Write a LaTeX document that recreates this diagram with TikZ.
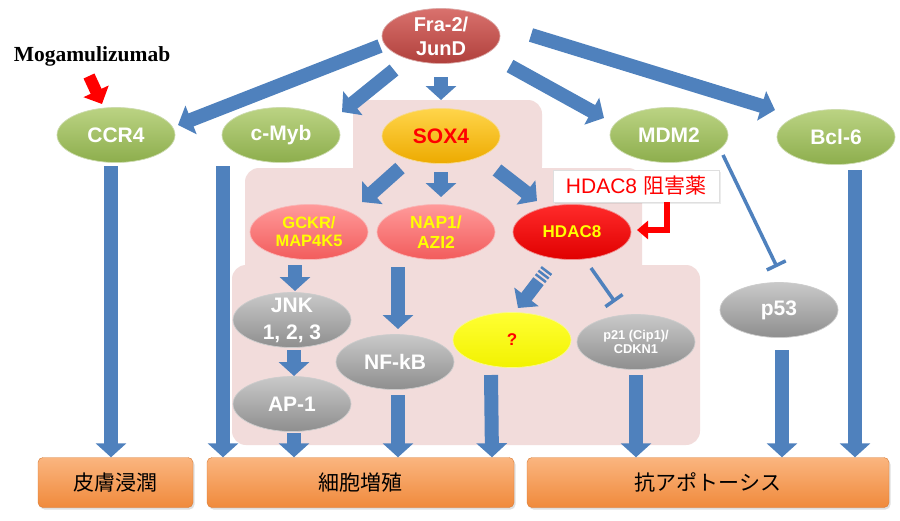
\documentclass[tikz,border=0pt]{standalone}
\usepackage{fontspec}
\setmainfont{Liberation Sans}
\newfontfamily\jpfont{Noto Sans CJK JP}
\newfontfamily\serifb{Liberation Serif}
\usetikzlibrary{shapes.geometric,arrows.meta,shadows,calc}
\newcommand{\myfs}[2]{\fontsize{#1}{#2}\selectfont}
\definecolor{ablue}{HTML}{4F81BD}
\definecolor{pinkbg}{HTML}{F2DCDB}
\definecolor{grT}{HTML}{BBD383}\definecolor{grB}{HTML}{8DAE4C}
\definecolor{frT}{HTML}{D9716D}\definecolor{frB}{HTML}{B0403C}
\definecolor{sxT}{HTML}{FFD54A}\definecolor{sxB}{HTML}{EDAA00}
\definecolor{slT}{HTML}{FF9A9A}\definecolor{slB}{HTML}{F25C5C}
\definecolor{hdT}{HTML}{FF2A2A}\definecolor{hdB}{HTML}{E00000}
\definecolor{gyT}{HTML}{C9C9C9}\definecolor{gyB}{HTML}{8E8E8E}
\definecolor{ylT}{HTML}{FFFF33}\definecolor{ylB}{HTML}{F2F200}
\definecolor{orT}{HTML}{FAB57F}\definecolor{orB}{HTML}{F08A3C}
\definecolor{ayellow}{HTML}{FFFF00}
\tikzset{
  bub/.style n args={2}{ellipse, minimum width=118pt, minimum height=55pt,
    inner xsep=0pt, inner ysep=-6pt, align=center, top color=#1, bottom color=#2,
    draw=white!55!#2, line width=0.7pt},
  obox/.style={rectangle, rounded corners=5pt, minimum height=50pt,
    top color=orT, bottom color=orB, draw=orB!90!black, line width=0.4pt,
    font=\jpfont\myfs{21}{24}, text=black,
    drop shadow={opacity=0.25, shadow xshift=1.5pt, shadow yshift=-2pt}},
  blk/.style={draw=ablue, line width=14pt, -{Triangle[length=14pt,width=30pt]}},
  stripe/.style={draw=ablue, line width=13pt,
    dash pattern=on 2.5pt off 2pt on 2.5pt off 2pt on 2.5pt off 2.5pt on 200pt,
    -{Triangle[length=14pt,width=30pt]}},
  inhib/.style={draw=ablue, line width=3.5pt, -{Bar[width=21pt]}},
  redarr/.style={draw=red, line width=12pt, -{Triangle[length=14pt,width=27pt]}},
  redelbow/.style={draw=red, line width=5.5pt, line join=miter, -{Triangle[length=11pt,width=18pt]}}
}
\begin{document}
\begin{tikzpicture}[x=1pt,y=-1pt]
\useasboundingbox (0,0) rectangle (900,520);
\fill[white] (0,0) rectangle (900,520);
% pink background region
\fill[pinkbg, rounded corners=14pt] (353,100) rectangle (542,180);
\fill[pinkbg, rounded corners=14pt] (245,168) rectangle (642,280);
\fill[pinkbg, rounded corners=14pt] (232,265) rectangle (700,445);

% nodes
\node[bub={frT}{frB}, text=white, font=\bfseries\myfs{20}{24}] (fra) at (441,36) {Fra-2/\\JunD};
\node[font=\serifb\bfseries\myfs{21.5}{24}] (mog) at (92,56) {Mogamulizumab};
\node[bub={grT}{grB}, text=white, font=\bfseries\myfs{21}{24}] (ccr4) at (116,135) {CCR4};
\node[bub={grT}{grB}, text=white, font=\bfseries\myfs{21}{24}] (cmyb) at (281,135) {c-Myb};
\node[bub={sxT}{sxB}, text=red, font=\bfseries\myfs{21}{24}] (sox4) at (441,136) {SOX4};
\node[bub={grT}{grB}, text=white, font=\bfseries\myfs{21}{24}] (mdm2) at (669,135) {MDM2};
\node[bub={grT}{grB}, text=white, font=\bfseries\myfs{21}{24}] (bcl6) at (836,137) {Bcl-6};
\node[rectangle, fill=white, draw=gray!25, minimum width=166pt, minimum height=32pt, inner sep=0pt,
  text=red, font=\myfs{21}{24},
  drop shadow={opacity=0.15, shadow xshift=1.5pt, shadow yshift=-1.5pt}] (inh) at (636,186) {HDAC8 {\jpfont 阻害薬}};
\node[bub={slT}{slB}, text=ayellow, font=\bfseries\myfs{16.5}{18}] (gckr) at (309,232) {GCKR/\\MAP4K5};
\node[bub={slT}{slB}, text=ayellow, font=\bfseries\myfs{17.5}{20}] (nap1) at (436,232) {NAP1/\\AZI2};
\node[bub={hdT}{hdB}, text=ayellow, font=\bfseries\myfs{17}{20}] (hdac8) at (572,232) {HDAC8};
\node[bub={gyT}{gyB}, text=white, font=\bfseries\myfs{21}{27}] (jnk) at (292,320) {JNK\\1, 2, 3};
\node[bub={gyT}{gyB}, text=white, font=\bfseries\myfs{21}{24}] (ap1) at (292,404) {AP-1};
\node[bub={gyT}{gyB}, text=white, font=\bfseries\myfs{21}{24}] (nfkb) at (395,362) {NF-kB};
\node[bub={ylT}{ylB}, text=red, font=\bfseries\myfs{17}{20}] (q) at (512,340) {?};
\node[bub={gyT}{gyB}, text=white, font=\bfseries\myfs{12.8}{14.5}] (p21) at (636,342) {p21 (Cip1)/\\CDKN1};
\node[bub={gyT}{gyB}, text=white, font=\bfseries\myfs{21}{24}] (p53) at (779,310) {p53};
\node[obox, minimum width=155pt] (b1) at (115.5,482.5) {皮膚浸潤};
\node[obox, minimum width=307pt] (b2) at (360.5,482.5) {細胞増殖};
\node[obox, minimum width=362pt] (b3) at (708,482.5) {抗アポトーシス};

% arrows from Fra-2/JunD
\draw[blk] ($(fra)+(-61,10)$) -- ($(ccr4)+(62,-10)$);
\draw[blk] ($(fra)+(-47,34)$) -- ($(cmyb)+(61,-23)$);
\draw[blk] ($(fra)+(0,41)$) -- ($(sox4)+(0,-36)$);
\draw[blk] ($(fra)+(69,30)$) -- ($(mdm2)+(-65,-17)$);
\draw[blk] ($(fra)+(90,-1)$) -- ($(bcl6)+(-61,-27)$);
% from SOX4
\draw[blk] ($(sox4)+(-41,32)$) -- ($(gckr)+(53,-30)$);
\draw[blk] ($(sox4)+(0,36)$) -- ($(nap1)+(5,-35)$);
\draw[blk] ($(sox4)+(56,34)$) -- ($(hdac8)+(-35,-31)$);
% vertical chains
\draw[blk] ($(ccr4)+(-5,31)$) -- ($(b1.north)+(-4.5,0)$);
\draw[blk] ($(cmyb)+(-58,31)$) -- ($(b2.north)+(-137.5,0)$);
\draw[blk] ($(gckr)+(-14,33)$) -- ($(jnk)+(3,-29)$);
\draw[blk] ($(jnk)+(2,30)$) -- ($(ap1)+(2,-28)$);
\draw[blk] ($(ap1)+(2,29)$) -- ($(b2.north)+(-66.5,0)$);
\draw[blk] ($(nap1)+(-38,35)$) -- ($(nfkb)+(3,-33)$);
\draw[blk] ($(nfkb)+(3,33)$) -- ($(b2.north)+(37.5,0)$);
\draw[blk] ($(q)+(-21,35)$) -- ($(b2.north)+(131.5,0)$);
\draw[blk] ($(p21)+(0,33)$) -- ($(b3.north)+(-72,0)$);
\draw[blk] ($(p53)+(3,40)$) -- ($(b3.north)+(74,0)$);
\draw[blk] ($(bcl6)+(19,33)$) -- ($(b3.north)+(147,0)$);
% HDAC8 striped arrow and inhibitions
\draw[stripe] ($(hdac8)+(-25,38)$) -- ($(q)+(6,-32)$);
\draw[inhib] ($(hdac8)+(19,36)$) -- ($(p21)+(-21,-40)$);
\draw[inhib] ($(mdm2)+(54,20)$) -- ($(p53)+(-2,-43)$);
% red arrows
\draw[redarr] ($(mog)+(-3,20)$) -- ($(ccr4)+(-14,-31)$);
\draw[redelbow] ($(inh)+(31,16)$) |- ($(hdac8)+(65,-2)$);
\end{tikzpicture}
\end{document}
